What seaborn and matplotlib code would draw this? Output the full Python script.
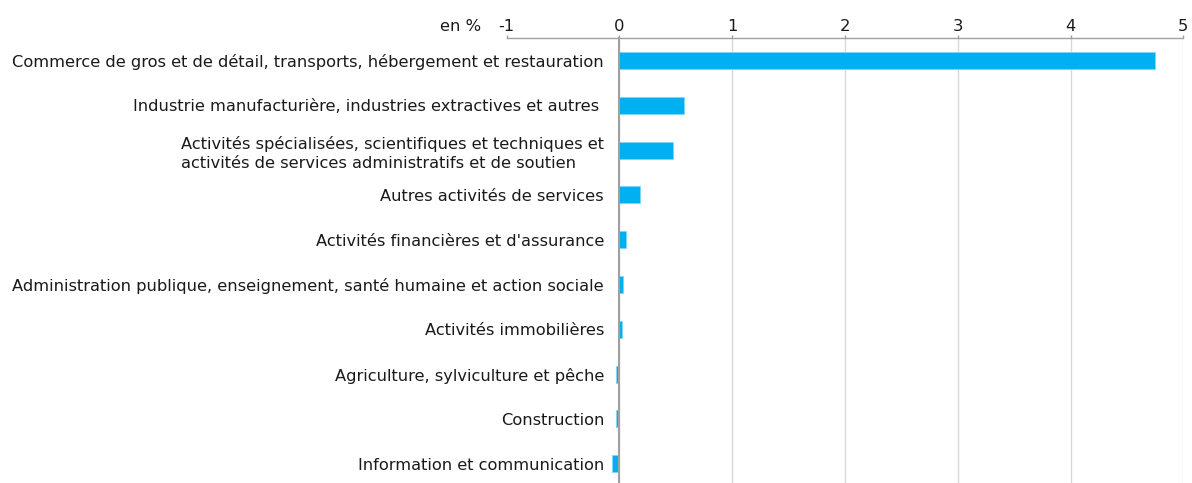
import matplotlib
matplotlib.use("Agg")
import matplotlib.pyplot as plt
import seaborn as sns
from matplotlib.ticker import FixedLocator

# Données (en %)
categories = [
    "Commerce de gros et de détail, transports, hébergement et restauration",
    "Industrie manufacturière, industries extractives et autres ",
    "Activités spécialisées, scientifiques et techniques et\nactivités de services administratifs et de soutien",
    "Autres activités de services",
    "Activités financières et d'assurance",
    "Administration publique, enseignement, santé humaine et action sociale",
    "Activités immobilières",
    "Agriculture, sylviculture et pêche",
    "Construction",
    "Information et communication",
]
values = [4.75, 0.57, 0.48, 0.18, 0.06, 0.035, 0.02, -0.025, -0.025, -0.065]
x_ticks = [-1, 0, 1, 2, 3, 4, 5]

sns.set_style("white")
plt.rcParams["font.family"] = ["DejaVu Sans"]

fig = plt.figure(figsize=(11.92, 4.83), dpi=100)
ax = fig.add_axes([506.5 / 1192, 0.0, 676.8 / 1192, 1 - 38 / 483])

sns.barplot(
    x=values,
    y=categories,
    orient="h",
    color="#00B0F0",
    saturation=1,
    width=0.38,
    edgecolor="#7FD6F6",
    linewidth=0.6,
    ax=ax,
    zorder=3,
)

ax.set_xlim(-1, 5)
ax.set_ylim(9.43, -0.5)
ax.set_xlabel("")
ax.set_ylabel("")

# axe des x en haut
ax.xaxis.tick_top()
ax.set_xticks(x_ticks)
ax.set_xticklabels([str(t) for t in x_ticks], fontsize=11.8, color="#1a1a1a")
ax.tick_params(axis="x", length=2, width=1, color="#A0A0A0", pad=1)

# grille verticale
ax.grid(axis="x", color="#D9D9D9", linewidth=1, zorder=0)
ax.grid(axis="y", visible=False)
ax.get_xgridlines()[0].set_visible(False)
ax.set_axisbelow(True)

# axe vertical positionné à 0
for s in ["bottom", "right"]:
    ax.spines[s].set_visible(False)
ax.spines["top"].set_color("#A0A0A0")
ax.spines["top"].set_linewidth(1)
ax.spines["left"].set_position(("data", 0))
ax.spines["left"].set_color("#A0A0A0")
ax.spines["left"].set_linewidth(1.5)
ax.spines["left"].set_zorder(4)

ax.tick_params(axis="y", which="major", length=0, pad=11, labelsize=11.7,
               labelcolor="#1a1a1a")
for lab in ax.get_yticklabels():
    lab.set_multialignment("left")
    lab.set_linespacing(1.3)
ax.yaxis.set_minor_locator(FixedLocator([i + 0.5 for i in range(len(categories))]))
ax.tick_params(axis="y", which="minor", length=2.5, width=0.8, color="#D0D0D0",
               direction="out")

fig.text(480.7 / 1192, 1 - 30.7 / 483, "en %", ha="right", va="baseline",
         fontsize=11.8, color="#1a1a1a")

fig.savefig("out.png", dpi=100)
